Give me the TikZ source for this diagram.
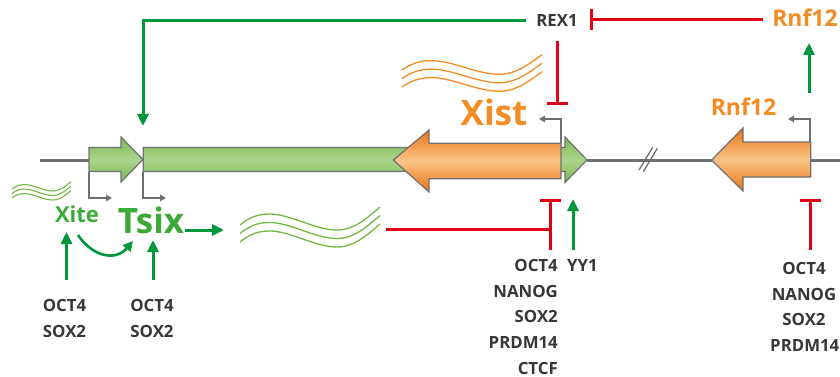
\documentclass[tikz,border=0pt]{standalone}
\usepackage{fontspec}
\setmainfont{Open Sans}
\usetikzlibrary{arrows.meta}
\definecolor{agreen}{RGB}{0,150,60}
\definecolor{tgreen}{RGB}{60,170,55}
\definecolor{wgreen}{RGB}{115,185,65}
\definecolor{ared}{RGB}{228,0,20}
\definecolor{aorange}{RGB}{243,140,35}
\definecolor{dorange}{RGB}{236,115,22}
\definecolor{lorange}{RGB}{250,196,135}
\definecolor{lgreen}{RGB}{172,212,142}
\definecolor{mgreen}{RGB}{122,184,78}
\definecolor{agray}{RGB}{112,112,112}
\definecolor{tgray}{RGB}{55,55,55}
\begin{document}
\begin{tikzpicture}[x=1pt,y=-1pt,
  act/.style={agreen,line width=3pt,-{Triangle[length=12pt,width=11pt]}},
  inh/.style={ared,line width=3pt,-{Bar[width=21pt]}},
  prom/.style={agray,line width=2pt,-{Triangle[length=6pt,width=6.5pt]}},
  backbone/.style={agray,line width=3pt},
  greengene/.style={draw=agray,line width=1.2pt,top color=mgreen,bottom color=mgreen,middle color=lgreen},
  orangegene/.style={draw=agray,line width=1.2pt,top color=dorange,bottom color=dorange,middle color=lorange},
  tf/.style={font=\bfseries\fontsize{16.8}{16.8}\selectfont,text=tgray,inner sep=0pt},
  gname/.style={font=\bfseries\fontsize{#1}{#1}\selectfont,inner sep=0pt},
  wavepic/.pic={
    \draw (0,0) .. controls (10,-8) and (18,-11) .. (30,-11) .. controls (50,-11) and (75,5) .. (97,5) .. controls (115,5) and (128,-8) .. (140,-18);
  }
]
\clip (0,0) rectangle (840,377);
\fill[white] (0,0) rectangle (840,377);

% backbone
\coordinate (bbL) at (40,160);
\coordinate (xiteStart) at (89,160);
\coordinate (tsixTip) at (587,160);
\coordinate (rnfTip) at (712,160);
\coordinate (rnfEnd) at (810.7,160);
\coordinate (bbR) at (840,160);
\draw[backbone] (bbL) -- (xiteStart);
\draw[backbone] (tsixTip) -- (rnfTip);
\draw[backbone] (rnfEnd) -- (bbR);
\draw[agray,line width=1.3pt] (652.7,147.3) -- (639,170) (657.3,148.3) -- (643.3,171.7);

% genes
\draw[greengene] (89,147.5) -- (121,147.5) -- (121,137) -- (143,159.5) -- (121,182) -- (121,171.5) -- (89,171.5) -- cycle;
\draw[greengene] (143.3,147.5) -- (565,147.5) -- (565,137) -- (587,160) -- (565,182.5) -- (565,171.5) -- (143.3,171.5) -- cycle;
\draw[orangegene] (561,143.3) -- (429,143.3) -- (429,130) -- (393.3,160) -- (429,192) -- (429,178.7) -- (561,178.7) -- cycle;
\draw[orangegene] (810.7,142) -- (743,142) -- (743,128) -- (711.7,160) -- (743,191) -- (743,177) -- (810.7,177) -- cycle;

% promoters
\coordinate (xiteP) at (89,171.5);  \coordinate (xiteT) at (112,198);
\coordinate (tsixP) at (143.3,171.5); \coordinate (tsixT) at (166,198);
\coordinate (xistP) at (561,143.3); \coordinate (xistT) at (539,119);
\coordinate (rnfP) at (810,142); \coordinate (rnfT) at (788,119);
\draw[prom] (xiteP) |- (xiteT);
\draw[prom] (tsixP) |- (tsixT);
\draw[prom] (xistP) |- (xistT);
\draw[prom] (rnfP) |- (rnfT);

% waves
\foreach \d in {0,8.5,17}
  \pic[wgreen,line width=1.3pt] at (240,225+\d) {wavepic};
\foreach \d in {0,8.5,17}
  \pic[aorange,line width=1.3pt,yscale=0.85] at (402,70+\d) {wavepic};
\foreach \d in {0,4.5,9}
  \pic[wgreen,line width=1.1pt,xscale=0.42,yscale=0.4] at (12,189+\d) {wavepic};

% labels
\node[tf,anchor=base] (rex1) at (557,27) {REX1};
\node[gname=23,text=aorange,anchor=base] (rnftop) at (805,27) {Rnf12};
\node[gname=23,text=aorange,anchor=base] (rnflow) at (743.5,116) {Rnf12};
\node[gname=35,text=aorange,anchor=base] (xist) at (494,125) {Xist};
\node[gname=35,text=tgreen,anchor=base] (tsix) at (151,233) {Tsix};
\node[gname=22,text=tgreen,anchor=base] (xite) at (77,222) {Xite};

\node[tf,anchor=base] (l1a) at (64.5,311.5) {OCT4};
\node[tf,anchor=base] (l1b) at (64.5,337.5) {SOX2};
\node[tf,anchor=base] (l2a) at (152,311.5) {OCT4};
\node[tf,anchor=base] (l2b) at (152,337.5) {SOX2};

\node[tf,anchor=base east] (m1) at (558,271.5) {OCT4};
\node[tf,anchor=base east] (m2) at (558,297) {NANOG};
\node[tf,anchor=base east] (m3) at (558,322.5) {SOX2};
\node[tf,anchor=base east] (m4) at (558,348) {PRDM14};
\node[tf,anchor=base east] (m5) at (558,374) {CTCF};
\node[tf,anchor=base west] (yy1) at (567,271.5) {YY1};

\node[tf,anchor=base] (r1) at (804,274) {OCT4};
\node[tf,anchor=base] (r2) at (804,300) {NANOG};
\node[tf,anchor=base] (r3) at (804,325.5) {SOX2};
\node[tf,anchor=base east] (r4) at (839.5,351) {PRDM14};

% regulatory connectors
\coordinate (rexL) at (526,21);
\coordinate (tsixTop) at (143,126);
\draw[agreen,line width=3pt,-{Triangle[length=12pt,width=11pt]}] (rexL) -| (tsixTop);

\coordinate (rnfTopL) at (763,20);
\coordinate (rexR) at (590,20);
\draw[inh] (rnfTopL) -- (rexR);

\coordinate (rexB) at (557,41);
\coordinate (xistBar) at (557,105);
\draw[inh] (rexB) -- (xistBar);

\coordinate (rnfUpS) at (809,93);
\coordinate (rnfUpE) at (809,43);
\draw[act] (rnfUpS) -- (rnfUpE);

\coordinate (tsixArS) at (185,230);
\coordinate (tsixArE) at (224,230);
\draw[act] (tsixArS) -- (tsixArE);

\coordinate (l1up) at (66.5,280);
\coordinate (xiteBot) at (66.5,232);
\draw[act] (l1up) -- (xiteBot);
\coordinate (l2up) at (153,280);
\coordinate (tsixBot) at (153,240);
\draw[act] (l2up) -- (tsixBot);

\coordinate (curveS) at (78,235);
\coordinate (curveE) at (133,241);
\draw[agreen,line width=2.6pt,-{Triangle[length=10pt,width=10pt]}] (curveS) .. controls (92,256) and (115,262) .. (curveE);

\coordinate (waveR) at (386,229);
\coordinate (mJoin) at (550,229);
\draw[ared,line width=3pt] (waveR) -- (mJoin);
\coordinate (mBot) at (550,250);
\coordinate (mBar) at (550,199);
\draw[inh] (mBot) -- (mBar);

\coordinate (yyBot) at (573,250);
\coordinate (yyTop) at (573,199);
\draw[act] (yyBot) -- (yyTop);

\coordinate (rBot) at (810,250);
\coordinate (rBar) at (810,199);
\draw[inh] (rBot) -- (rBar);
\end{tikzpicture}
\end{document}
